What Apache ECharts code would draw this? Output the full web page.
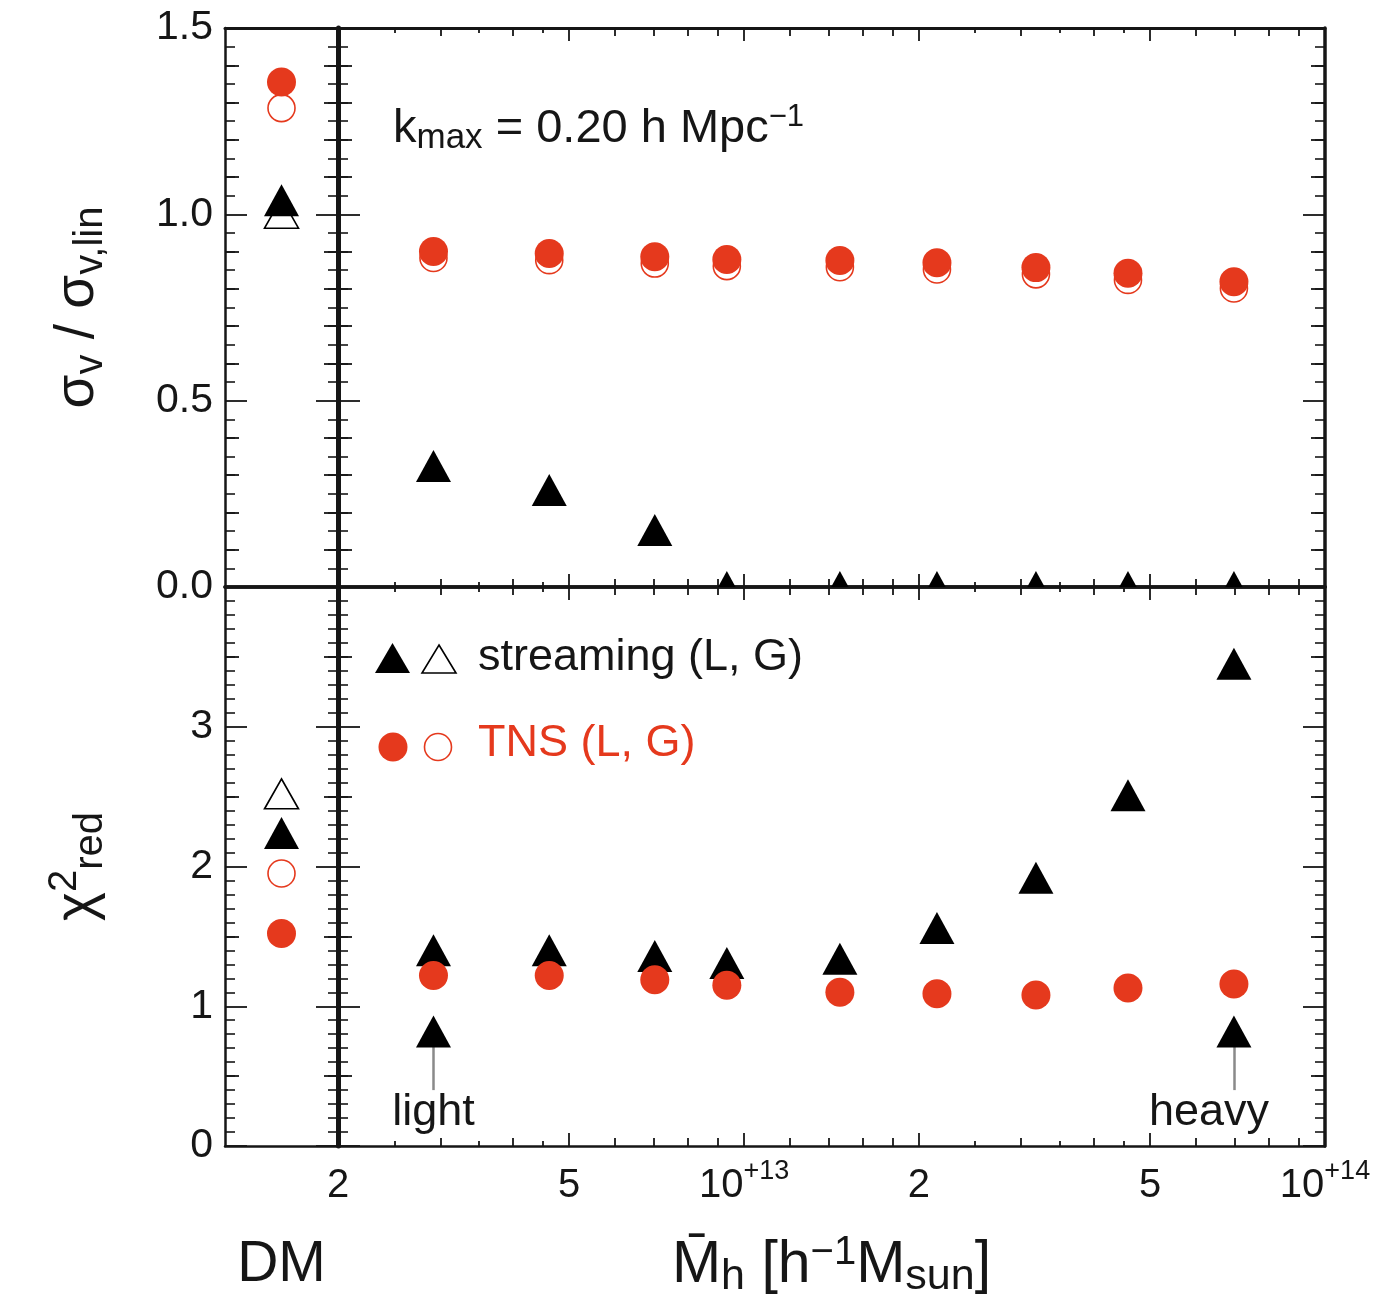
<!DOCTYPE html>
<html>
<head>
<meta charset="utf-8">
<title>sigma_v / sigma_v,lin and reduced chi2 vs halo mass</title>
<script src="https://cdn.jsdelivr.net/npm/echarts@6.0.0/dist/echarts.min.js"></script>
<style>
html,body{margin:0;padding:0;background:#fff;}
#chart{width:1398px;height:1306px;}
</style>
</head>
<body>
<div id="chart"></div>
<script>
// ---------------- data ----------------
const dmCategory = ['DM'];
const haloMass = [2.92e12, 4.62e12, 7.02e12, 9.34e12, 1.462e13, 2.148e13, 3.18e13, 4.58e13, 6.97e13];

const sigmaTnsL    = [0.900, 0.895, 0.886, 0.879, 0.876, 0.870, 0.857, 0.842, 0.819];
const sigmaTnsG    = [0.883, 0.877, 0.868, 0.861, 0.858, 0.852, 0.839, 0.824, 0.801];
const sigmaStreamL = [0.325, 0.260, 0.153, 0.0, 0.0, 0.0, 0.0, 0.0, 0.0];

const chi2StreamL = [1.40, 1.40, 1.36, 1.31, 1.34, 1.56, 1.92, 2.51, 3.45];
const chi2TnsL    = [1.22, 1.22, 1.19, 1.15, 1.10, 1.09, 1.08, 1.13, 1.16];

const dmSigmaTnsL    = [1.355];
const dmSigmaTnsG    = [1.285];
const dmSigmaStreamL = [1.038];
const dmSigmaStreamG = [1.003];
const dmChi2TnsL     = [1.52];
const dmChi2TnsG     = [1.95];
const dmChi2StreamL  = [2.24];
const dmChi2StreamG  = [2.52];

const arrowMass  = [2.92e12, 6.97e13];
const arrowTip   = [0.82, 0.82];
const arrowBase  = [0.40, 0.40];
const arrowNames = ['light', 'heavy'];

const xRange      = [2e12, 1e14];
const xLongTicks  = [2e12, 5e12, 1e13, 2e13, 5e13, 1e14];
const xTickLabels = ['2', '5', '10{sup|+13}', '2', '5', '10{sup|+14}'];
const xMidTicks   = [3e12, 4e12, 6e12, 7e12, 8e12, 9e12, 1.2e13, 1.4e13, 1.6e13, 1.8e13, 3e13, 4e13, 6e13, 7e13, 8e13, 9e13];
const xShortTicks = [2.5e12, 3.5e12, 4.5e12, 2.5e13, 3.5e13, 4.5e13];

const sigmaMax = 1.5, sigmaStep = 0.5;
const sigmaMidTicks = [0.1, 0.2, 0.3, 0.4, 0.6, 0.7, 0.8, 0.9, 1.1, 1.2, 1.3, 1.4];
const chi2Max = 4, chi2Step = 1;
const chi2MidTicks = [0.5, 1.5, 2.5, 3.5];

// ---------------- styles ----------------
const RED = '#e5391d';
const INK = '#161616';
const FONT = '"Liberation Sans", Arial, Helvetica, sans-serif';
const zip = (xs, ys) => xs.map((x, i) => [x, ys[i]]);

function dmXAxis(grid, pos, lineW, showLabel) {
  return {
    type: 'category', gridIndex: grid, position: pos, data: dmCategory, boundaryGap: true,
    axisLine: {show: true, onZero: false, lineStyle: {color: INK, width: lineW}},
    axisTick: {show: false}, splitLine: {show: false},
    axisLabel: {show: showLabel, fontSize: 57, color: INK, fontFamily: FONT, margin: 91}
  };
}

function logXAxes(grid, pos, lineW, withLabels) {
  const groups = [[xLongTicks, 13], [xMidTicks, 8], [xShortTicks, 5]];
  return groups.map(([vals, len], k) => {
    const ax = {
      type: 'log', logBase: 10, gridIndex: grid, position: pos, min: xRange[0], max: xRange[1],
      axisLine: {show: k === 0, onZero: false, lineStyle: {color: INK, width: lineW}},
      axisTick: {show: true, inside: true, length: len, customValues: vals, lineStyle: {color: INK, width: 1.8}},
      minorTick: {show: false}, splitLine: {show: false}, minorSplitLine: {show: false},
      axisLabel: {show: false}
    };
    if (k === 0 && withLabels) {
      ax.axisLabel = {
        show: true, customValues: xLongTicks, margin: 12,
        fontSize: 40, lineHeight: 56, color: INK, fontFamily: FONT,
        formatter: v => {
          const i = xLongTicks.findIndex(t => Math.abs(Math.log10(t) - Math.log10(v)) < 0.01);
          return i >= 0 ? xTickLabels[i] : '';
        },
        rich: {sup: {fontSize: 27, lineHeight: 27, verticalAlign: 'top', color: INK, fontFamily: FONT}}
      };
      ax.name = 'M\u0304{sub|h} [h{sup|\u22121}M{sub|sun}]';
      ax.nameLocation = 'middle';
      ax.nameGap = 87;
      ax.nameTextStyle = {
        fontSize: 59, lineHeight: 66, color: INK, fontFamily: FONT,
        rich: {
          sub: {fontSize: 43, lineHeight: 43, verticalAlign: 'bottom', color: INK, fontFamily: FONT},
          sup: {fontSize: 40, lineHeight: 54, verticalAlign: 'top', color: INK, fontFamily: FONT}
        }
      };
    }
    return ax;
  });
}

function yAxes(grid, pos, max, step, midVals, lineW, label, name) {
  const primary = {
    type: 'value', gridIndex: grid, position: pos, min: 0, max: max, interval: step,
    axisLine: {show: lineW > 0, onZero: false, lineStyle: {color: INK, width: lineW}},
    axisTick: {show: true, inside: true, length: 22, lineStyle: {color: INK, width: 1.8}},
    minorTick: {show: true, splitNumber: 10, length: 10, lineStyle: {color: INK, width: 1.6}},
    splitLine: {show: false}, minorSplitLine: {show: false},
    axisLabel: label ? Object.assign({show: true, fontSize: 41, color: INK, fontFamily: FONT, margin: 12}, label) : {show: false}
  };
  if (name) Object.assign(primary, name);
  const mid = {
    type: 'value', gridIndex: grid, position: pos, min: 0, max: max,
    axisLine: {show: false, onZero: false},
    axisTick: {show: true, inside: true, length: 14, customValues: midVals, lineStyle: {color: INK, width: 1.8}},
    splitLine: {show: false}, axisLabel: {show: false}
  };
  return [primary, mid];
}

const yNameStyle = (text) => ({
  name: text, nameLocation: 'middle', nameGap: 114, nameRotate: 90,
  nameTextStyle: {
    fontSize: 55, lineHeight: 66, color: INK, fontFamily: FONT,
    rich: {
      sub: {fontSize: 40, lineHeight: 50, verticalAlign: 'bottom', color: INK, fontFamily: FONT},
      sup: {fontSize: 40, lineHeight: 40, verticalAlign: 'top', color: INK, fontFamily: FONT}
    }
  }
});

const xAxis = [
  dmXAxis(0, 'bottom', 3.5, false), dmXAxis(0, 'top', 3, false),
  dmXAxis(2, 'bottom', 2.5, true), dmXAxis(2, 'top', 3.5, false),
  ...logXAxes(1, 'bottom', 3.5, false), ...logXAxes(1, 'top', 3, false),
  ...logXAxes(3, 'bottom', 2.5, true), ...logXAxes(3, 'top', 3.5, false)
];
const X_DM_TOP = 0, X_DM_BOT = 2, X_MAIN_TOP = 4, X_MAIN_BOT = 10;

const yAxis = [
  ...yAxes(0, 'left', sigmaMax, sigmaStep, sigmaMidTicks, 2.5, {formatter: v => v.toFixed(1)}, yNameStyle('\u03c3{sub|v} / \u03c3{sub|v,lin}')),
  ...yAxes(0, 'right', sigmaMax, sigmaStep, sigmaMidTicks, 0, null, null),
  ...yAxes(1, 'left', sigmaMax, sigmaStep, sigmaMidTicks, 5, null, null),
  ...yAxes(1, 'right', sigmaMax, sigmaStep, sigmaMidTicks, 3.5, null, null),
  ...yAxes(2, 'left', chi2Max, chi2Step, chi2MidTicks, 2.5, {formatter: v => (v < chi2Max ? String(v) : '')}, yNameStyle('\u03c7{sup|2}{sub|red}')),
  ...yAxes(2, 'right', chi2Max, chi2Step, chi2MidTicks, 0, null, null),
  ...yAxes(3, 'left', chi2Max, chi2Step, chi2MidTicks, 5, null, null),
  ...yAxes(3, 'right', chi2Max, chi2Step, chi2MidTicks, 3.5, null, null)
];
const Y_DM_TOP = 0, Y_MAIN_TOP = 4, Y_DM_BOT = 8, Y_MAIN_BOT = 12;

const circleFilled = {symbol: 'circle', symbolSize: 29, itemStyle: {color: RED, opacity: 1}};
const circleOpen   = {symbol: 'circle', symbolSize: 27, itemStyle: {color: '#ffffff', borderColor: RED, borderWidth: 1.6, opacity: 1}};
const triFilled    = {symbol: 'triangle', symbolSize: [35, 32], itemStyle: {color: '#000000', opacity: 1}};
const triOpen      = {symbol: 'triangle', symbolSize: [34, 30], itemStyle: {color: '#ffffff', borderColor: '#000000', borderWidth: 1.6, opacity: 1}};

function sc(name, xi, yi, data, style, extra) {
  return Object.assign({type: 'scatter', name, xAxisIndex: xi, yAxisIndex: yi, data, silent: true, clip: true, z: 2}, style, extra || {});
}

const series = [
  sc('streaming G, DM', X_DM_TOP, Y_DM_TOP, zip(dmCategory, dmSigmaStreamG), triOpen),
  sc('streaming L, DM', X_DM_TOP, Y_DM_TOP, zip(dmCategory, dmSigmaStreamL), triFilled),
  sc('TNS G, DM', X_DM_TOP, Y_DM_TOP, zip(dmCategory, dmSigmaTnsG), circleOpen),
  sc('TNS L, DM', X_DM_TOP, Y_DM_TOP, zip(dmCategory, dmSigmaTnsL), circleFilled),
  {
    type: 'custom', name: 'streaming L', xAxisIndex: X_MAIN_TOP, yAxisIndex: Y_MAIN_TOP, clip: true, silent: true,
    data: zip(haloMass, sigmaStreamL),
    renderItem: (params, api) => {
      const p = api.coord([api.value(0), api.value(1)]);
      const w = 35, h = 32;
      return {type: 'polygon', shape: {points: [[p[0], p[1] - h / 2], [p[0] + w / 2, p[1] + h / 2], [p[0] - w / 2, p[1] + h / 2]]}, style: {fill: '#000000'}};
    }
  },
  sc('TNS G', X_MAIN_TOP, Y_MAIN_TOP, zip(haloMass, sigmaTnsG), circleOpen),
  sc('TNS L', X_MAIN_TOP, Y_MAIN_TOP, zip(haloMass, sigmaTnsL), circleFilled),

  sc('streaming G, DM chi2', X_DM_BOT, Y_DM_BOT, zip(dmCategory, dmChi2StreamG), triOpen),
  sc('streaming L, DM chi2', X_DM_BOT, Y_DM_BOT, zip(dmCategory, dmChi2StreamL), triFilled),
  sc('TNS G, DM chi2', X_DM_BOT, Y_DM_BOT, zip(dmCategory, dmChi2TnsG), circleOpen),
  sc('TNS L, DM chi2', X_DM_BOT, Y_DM_BOT, zip(dmCategory, dmChi2TnsL), circleFilled),

  sc('arrows', X_MAIN_BOT, Y_MAIN_BOT, zip(arrowMass, arrowTip), triFilled, {
    z: 10,
    markLine: {
      silent: true, animation: false, symbol: ['none', 'none'],
      lineStyle: {color: '#8a8a8a', width: 2.5, type: 'solid', opacity: 1},
      emphasis: {disabled: true},
      label: {show: true, position: 'start', distance: 0, formatter: p => arrowNames[p.dataIndex],
              fontSize: 45, color: INK, fontFamily: FONT},
      data: arrowMass.map((m, i) => [
        {coord: [m, arrowBase[i]], label: {offset: [i === 1 ? -25 : 0, 0]}},
        {coord: [m, arrowTip[i]]}
      ])
    }
  }),
  sc('streaming L chi2', X_MAIN_BOT, Y_MAIN_BOT, zip(haloMass, chi2StreamL), triFilled),
  sc('TNS L chi2', X_MAIN_BOT, Y_MAIN_BOT, zip(haloMass, chi2TnsL), circleFilled, {z: 3})
];

const tri = (cx, cy, w, h) => [[cx, cy - h / 2], [cx + w / 2, cy + h / 2], [cx - w / 2, cy + h / 2]];

const graphic = [
  {type: 'text', z: 20, style: {
    text: 'k{sub|max} = 0.20 h Mpc{sup|\u22121}', x: 393, y: 129, verticalAlign: 'middle', textAlign: 'left',
    fill: INK, fontSize: 47, fontFamily: FONT, lineHeight: 54,
    rich: {
      sub: {fontSize: 35, lineHeight: 35, verticalAlign: 'bottom', fill: INK, fontFamily: FONT},
      sup: {fontSize: 31, lineHeight: 31, verticalAlign: 'top', fill: INK, fontFamily: FONT}
    }
  }},
  {type: 'polygon', z: 20, shape: {points: tri(392.5, 658, 35, 30)}, style: {fill: '#000'}},
  {type: 'polygon', z: 20, shape: {points: tri(439, 659, 34, 28)}, style: {fill: '#fff', stroke: '#000', lineWidth: 1.6}},
  {type: 'text', z: 20, style: {text: 'streaming (L, G)', x: 478, y: 658, verticalAlign: 'middle', fill: INK, fontSize: 45, fontFamily: FONT}},
  {type: 'circle', z: 20, shape: {cx: 393, cy: 747, r: 14.5}, style: {fill: RED}},
  {type: 'circle', z: 20, shape: {cx: 438, cy: 747, r: 13.5}, style: {fill: '#fff', stroke: RED, lineWidth: 1.6}},
  {type: 'text', z: 20, style: {text: 'TNS (L, G)', x: 478, y: 744, verticalAlign: 'middle', fill: RED, fontSize: 45, fontFamily: FONT}}
];

const grid = [
  {left: 225, width: 113, top: 28, height: 559},
  {left: 338, right: 73, top: 28, height: 559},
  {left: 225, width: 113, top: 587, height: 559},
  {left: 338, right: 73, top: 587, height: 559}
].map(g => Object.assign({containLabel: false, outerBoundsMode: 'none'}, g));

const chart = echarts.init(document.getElementById('chart'), null, {renderer: 'canvas'});
chart.setOption({
  backgroundColor: '#ffffff',
  animation: false,
  textStyle: {fontFamily: FONT},
  grid, xAxis, yAxis, series, graphic
});
</script>
</body>
</html>
